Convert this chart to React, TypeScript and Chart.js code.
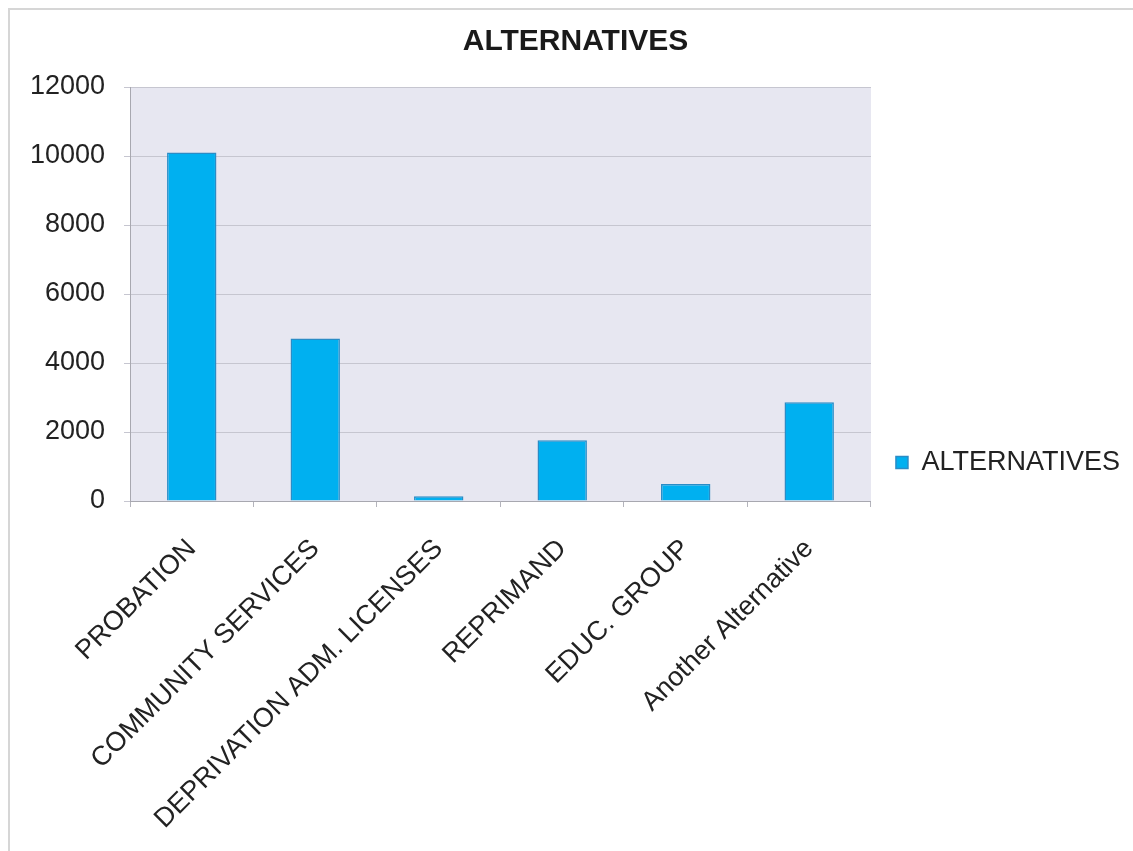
import React, { useEffect, useRef } from "react";
import { Chart, registerables } from "chart.js";

Chart.register(...registerables);

const categories: string[] = [
  "PROBATION",
  "COMMUNITY SERVICES",
  "DEPRIVATION ADM. LICENSES",
  "REPRIMAND",
  "EDUC. GROUP",
  "Another Alternative",
];
const seriesName = "ALTERNATIVES";
const seriesValues: number[] = [10100, 4710, 140, 1760, 490, 2860];
const yTicks: number[] = [0, 2000, 4000, 6000, 8000, 10000, 12000];

const FONT = "'Liberation Sans', Arial, sans-serif";

const plotBg = {
  id: "plotBg",
  beforeDraw(chart: any) {
    const { ctx, chartArea } = chart;
    if (!chartArea) return;
    ctx.save();
    ctx.fillStyle = "#e7e7f1";
    ctx.fillRect(chartArea.left, chartArea.top, chartArea.right - chartArea.left, chartArea.bottom - chartArea.top);
    ctx.restore();
  },
};

export default function App() {
  const ref = useRef<HTMLCanvasElement | null>(null);

  useEffect(() => {
    if (!ref.current) return;
    const chart = new Chart(ref.current, {
      type: "bar",
      data: {
        labels: categories,
        datasets: [
          {
            label: seriesName,
            data: seriesValues,
            backgroundColor: "#00b0f0",
            borderColor: "#2a8cc6",
            borderWidth: 1.5,
            barPercentage: 0.4,
            categoryPercentage: 1,
          },
        ],
      },
      options: {
        animation: false,
        responsive: false,
        maintainAspectRatio: false,
        layout: { padding: { left: 21, right: 3, top: 8, bottom: 0 } },
        plugins: {
          title: {
            display: true,
            text: "ALTERNATIVES",
            color: "#1a1a1a",
            font: { family: FONT, size: 30, weight: "bold" },
            padding: { top: 16, bottom: 27 },
          },
          legend: {
            display: true,
            position: "right",
            align: "end",
            fullSize: false,
            labels: {
              color: "#222",
              font: { family: FONT, size: 27 },
              boxWidth: 12,
              boxHeight: 12,
              padding: 25,
            },
          },
          tooltip: { enabled: false },
        },
        scales: {
          x: {
            grid: {
              display: true,
              drawOnChartArea: false,
              drawTicks: true,
              tickLength: 6,
              color: "#b4b4bc",
              offset: true,
            },
            border: { display: true, color: "#a8a8b0" },
            ticks: {
              autoSkip: false,
              maxRotation: 45,
              minRotation: 45,
              color: "#222",
              font: { family: FONT, size: 27 },
              padding: 26,
              labelOffset: 0,
            },
            afterFit(scale: any) {
              scale.height = 350;
            },
          },
          y: {
            min: 0,
            max: 12000,
            afterBuildTicks(scale: any) {
              scale.ticks = yTicks.map((v) => ({ value: v }));
            },
            grid: {
              color: "#c6c6d0",
              tickLength: 6,
              drawTicks: true,
            },
            border: { display: true, color: "#a8a8b0" },
            ticks: {
              color: "#222",
              font: { family: FONT, size: 27 },
              padding: 19,
              callback: (v: any) => String(v),
            },
            afterFit(scale: any) {
              scale.width = 109;
            },
          },
        },
      },
      plugins: [plotBg],
    });
    return () => chart.destroy();
  }, []);

  return (
    <div style={{ position: "fixed", left: 0, top: 0, width: 1133, height: 851, background: "#fff" }}>
      <div
        style={{
          position: "absolute",
          left: 8,
          top: 8,
          width: 1200,
          height: 900,
          borderTop: "2px solid #d6d6d6",
          borderLeft: "2px solid #d6d6d6",
        }}
      />
      <canvas ref={ref} width={1133} height={851} style={{ position: "absolute", left: 0, top: 0 }} />
    </div>
  );
}
